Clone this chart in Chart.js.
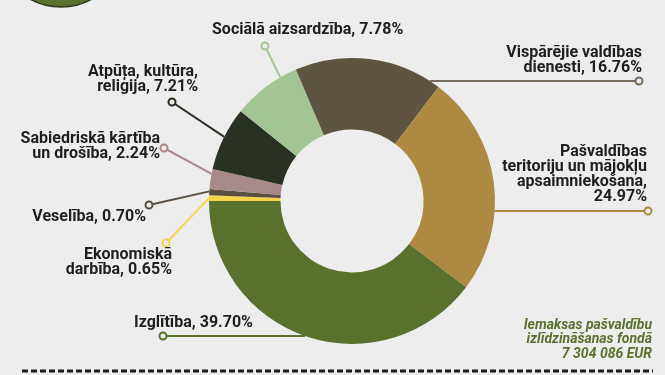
<!DOCTYPE html>
<html>
<head>
<meta charset="utf-8">
<script src="https://cdn.jsdelivr.net/npm/chart.js@4.4.0/dist/chart.umd.min.js"></script>
<style>
  html, body { margin: 0; padding: 0; background: #ededed; }
  #wrap { position: relative; width: 665px; height: 375px; overflow: hidden; }
</style>
</head>
<body>
<div id="wrap"><canvas id="myChart" width="665" height="375"></canvas></div>
<script>
// clockwise from 9 o'clock
const categories = [
  "Ekonomiskā\ndarbība",
  "Veselība",
  "Sabiedriskā kārtība\nun drošība",
  "Atpūta, kultūra,\nreliģija",
  "Sociālā aizsardzība",
  "Vispārējie valdības\ndienesti",
  "Pašvaldības\nteritoriju un mājokļu\napsaimniekošana",
  "Izglītība",
];
const shares = [0.65, 0.70, 2.24, 7.21, 7.78, 16.76, 24.97, 39.70];
const sliceColors = ["#f4d54a", "#5b5040", "#a88a8a", "#283122", "#a3c594", "#5e5441", "#ad8941", "#5a712e"];
const lineColors = ["#f4d54a", "#5b5040", "#a88a8a", "#283122", "#a3c594", "#766c5c", "#ad8941", "#5a712e"];
const fundNote = ["Iemaksas pašvaldību", "izlīdzināšanas fondā", "7 304 086 EUR"];

// label layout: dot position, text anchor, attach mode
const labelLayout = [
  { dot: [166, 243], frac: 0.5, tx: 172, ty: 255, align: "right" },
  { dot: [149, 205], frac: 0.6, tx: 146, ty: 217, align: "right" },
  { dot: [164, 148], frac: 0.75, tx: 160, ty: 139, align: "right" },
  { dot: [172, 102], frac: 0.53, tx: 198, ty: 72, align: "right" },
  { dot: [265, 46], frac: 0.75, tx: 212, ty: 30, align: "left" },
  { dot: [639, 81], horizontal: true, tx: 642, ty: 53, align: "right" },
  { dot: [648, 211], horizontal: true, tx: 647, ty: 152, align: "right", valueOwnLine: true },
  { dot: [163, 336], horizontal: true, tx: 134, ty: 323, align: "left" },
];

const FONT = "Roboto, 'Noto Sans', sans-serif";

const decorations = {
  id: "decorations",
  beforeDraw(chart) {
    const ctx = chart.ctx;
    ctx.save();
    // partial green circle at top-left
    ctx.beginPath();
    ctx.arc(61, -56, 63, 0, Math.PI * 2);
    ctx.fillStyle = "#5a712e";
    ctx.fill();
    ctx.lineWidth = 1.5;
    ctx.strokeStyle = "#2f3a1c";
    ctx.stroke();
    // dashed line at bottom
    ctx.beginPath();
    ctx.setLineDash([6, 3]);
    ctx.lineWidth = 3;
    ctx.strokeStyle = "#1c1c1c";
    ctx.moveTo(22, 371);
    ctx.lineTo(653, 371);
    ctx.stroke();
    ctx.restore();
  },
  afterDraw(chart) {
    const ctx = chart.ctx;
    const arcs = chart.getDatasetMeta(0).data;
    ctx.save();
    labelLayout.forEach((lay, i) => {
      const arc = arcs[i];
      const cx = arc.x, cy = arc.y, R = arc.outerRadius;
      let px, py;
      if (lay.horizontal) {
        const dy = lay.dot[1] - cy;
        const side = i === 7 ? -1 : 1;
        px = cx + side * Math.sqrt(R * R - dy * dy);
        py = lay.dot[1];
      } else {
        const a = arc.startAngle + (arc.endAngle - arc.startAngle) * lay.frac;
        px = cx + R * Math.cos(a);
        py = cy + R * Math.sin(a);
      }
      ctx.beginPath();
      ctx.moveTo(px, py);
      ctx.lineTo(lay.dot[0], lay.dot[1]);
      ctx.lineWidth = 2;
      ctx.strokeStyle = lineColors[i];
      ctx.stroke();
      ctx.beginPath();
      ctx.arc(lay.dot[0], lay.dot[1], 3.5, 0, Math.PI * 2);
      ctx.fillStyle = "#ededed";
      ctx.fill();
      ctx.stroke();

      // text
      const lines = categories[i].split("\n");
      const val = shares[i].toFixed(2) + "%";
      if (lay.valueOwnLine) {
        lines[lines.length - 1] += ",";
        lines.push(val);
      } else {
        lines[lines.length - 1] += ", " + val;
      }
      ctx.font = "bold 16px " + FONT;
      ctx.fillStyle = "#1e1e1e";
      ctx.textAlign = lay.align;
      ctx.textBaseline = "middle";
      lines.forEach((t, k) => ctx.fillText(t, lay.tx, lay.ty + k * 15));
    });

    ctx.font = "italic bold 14px " + FONT;
    ctx.fillStyle = "#5a712e";
    ctx.textAlign = "right";
    ctx.textBaseline = "middle";
    fundNote.forEach((t, k) => ctx.fillText(t, 652, 325 + k * 14.5));
    ctx.restore();
  },
};

new Chart(document.getElementById("myChart"), {
  type: "doughnut",
  data: {
    labels: categories,
    datasets: [
      {
        data: shares,
        backgroundColor: sliceColors,
        borderWidth: 0,
      },
    ],
  },
  options: {
    responsive: false,
    animation: false,
    rotation: -90,
    cutout: "50%",
    layout: { padding: { left: 209, right: 170, top: 58, bottom: 31 } },
    plugins: {
      legend: { display: false },
      tooltip: { enabled: false },
    },
  },
  plugins: [decorations],
});
</script>
</body>
</html>
